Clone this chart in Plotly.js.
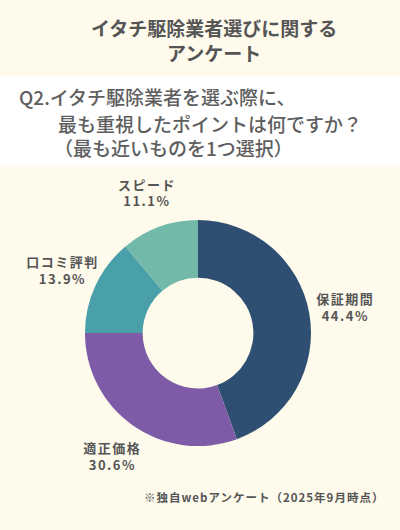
<!DOCTYPE html>
<html>
<head>
<meta charset="utf-8">
<script src="https://cdn.plot.ly/plotly-3.0.1.min.js"></script>
<style>
  html, body { margin: 0; padding: 0; background: #FEFBEC; }
  #chart { width: 400px; height: 530px; }
  /* the survey graphic uses loosely tracked labels */
  #chart .slicetext text { letter-spacing: 1.5px; }
  #chart .annotation[data-index="4"] text { letter-spacing: 1px; }
</style>
</head>
<body>
<div id="chart"></div>
<script>
// survey answers, percent
var categories = ["保証期間", "適正価格", "口コミ評判", "スピード"];
var shares = [44.4, 30.6, 13.9, 11.1];
var sliceColors = ["#2E4F72", "#7D5BA6", "#4AA0A9", "#73B9A9"];

var titleLines = ["イタチ駆除業者選びに関する", "アンケート"];
var questionLines = ["Q2.イタチ駆除業者を選ぶ際に、", "最も重視したポイントは何ですか？", "（最も近いものを1つ選択）"];
var footnote = "※独自webアンケート（2025年9月時点）";

var jp = "'Noto Sans CJK JP', 'Noto Sans', sans-serif";

var donut = {
    type: "pie",
    labels: categories,
    values: shares,
    sort: false,
    direction: "clockwise",
    rotation: 0,
    hole: 0.49,
    marker: { colors: sliceColors, line: { width: 0 } },
    textinfo: "none",
    hoverinfo: "none",
    domain: { x: [0.2125, 0.7775], y: [0.158, 0.585] },
    showlegend: false
};

// same shares on a wider transparent ring, only to carry the labels
var labelRing = {
    type: "pie",
    labels: categories,
    values: shares,
    sort: false,
    direction: "clockwise",
    rotation: 0,
    hole: 0.6,
    marker: { colors: ["rgba(0,0,0,0)", "rgba(0,0,0,0)", "rgba(0,0,0,0)", "rgba(0,0,0,0)"], line: { width: 0 } },
    textposition: "inside",
    insidetextorientation: "horizontal",
    texttemplate: "<b>%{label}</b><br><b>%{value:.1f}%</b>",
    textfont: { family: jp, size: 13, color: "#555555" },
    hoverinfo: "none",
    domain: { x: [0.0275, 0.9625], y: [0.0185, 0.7245] },
    showlegend: false
};

var annotations = [
    { text: "<b>" + titleLines.join("<br>") + "</b>", x: 0.535, y: 1 - 40 / 530, yanchor: "middle",
      xref: "paper", yref: "paper", showarrow: false, align: "center",
      font: { family: jp, size: 19, color: "#555555" } },
    { text: questionLines[0], x: 17 / 400, y: 1 - 97 / 530, xanchor: "left", yanchor: "middle",
      xref: "paper", yref: "paper", showarrow: false,
      font: { family: jp, size: 19, weight: 500, color: "#5E5E5E" } },
    { text: questionLines[1], x: 56 / 400, y: 1 - 123 / 530, xanchor: "left", yanchor: "middle",
      xref: "paper", yref: "paper", showarrow: false,
      font: { family: jp, size: 19, weight: 500, color: "#5E5E5E" } },
    { text: questionLines[2], x: 52 / 400, y: 1 - 148 / 530, xanchor: "left", yanchor: "middle",
      xref: "paper", yref: "paper", showarrow: false,
      font: { family: jp, size: 19, weight: 500, color: "#5E5E5E" } },
    { text: "<b>" + footnote + "</b>", x: 264 / 400, y: 1 - 497 / 530, xanchor: "center", yanchor: "middle",
      xref: "paper", yref: "paper", showarrow: false,
      font: { family: jp, size: 11.5, color: "#555555" } }
];

var layout = {
    width: 400,
    height: 530,
    margin: { l: 0, r: 0, t: 0, b: 0 },
    paper_bgcolor: "#FEFBEC",
    plot_bgcolor: "#FEFBEC",
    shapes: [
        { type: "rect", xref: "paper", yref: "paper", x0: 0, x1: 1,
          y0: 1 - 165 / 530, y1: 1 - 76 / 530, fillcolor: "#FFFFFF", line: { width: 0 }, layer: "below" }
    ],
    annotations: annotations
};

Plotly.newPlot("chart", [labelRing, donut], layout, { displayModeBar: false, staticPlot: true });
</script>
</body>
</html>
